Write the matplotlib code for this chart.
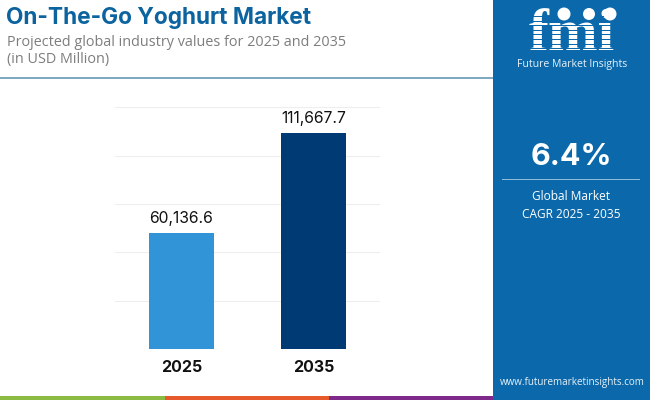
import matplotlib
matplotlib.use("Agg")
import matplotlib.pyplot as plt
from matplotlib.patches import Rectangle, Circle

years = ["2025", "2035"]
values = [60136.6, 111667.7]
value_labels = ["60,136.6", "111,667.7"]
bar_colors = ["#3194d6", "#003a75"]
y_ticks = [0, 25000, 50000, 75000, 100000, 125000]

panel_color = "#0b69ab"
title_color = "#0b639f"
grey_text = "#7d7d7d"

fig = plt.figure(figsize=(6.5, 4), dpi=100, facecolor="white")

# whole figure overlay in pixel coords, y going down
bg = fig.add_axes([0, 0, 1, 1])
bg.set_xlim(0, 650)
bg.set_ylim(400, 0)
bg.axis("off")

bg.add_patch(Rectangle((493, 0), 157, 400, color=panel_color, lw=0))
bg.add_patch(Rectangle((0, 77), 493, 2, color="#7fa9c1", lw=0))
bg.add_patch(Rectangle((0, 396), 165, 4, color="#8cbb44", lw=0))
bg.add_patch(Rectangle((165, 396), 164, 4, color="#e65a2c", lw=0))
bg.add_patch(Rectangle((329, 396), 164, 4, color="#7f2a8a", lw=0))

bg.text(6, 18, "On-The-Go Yoghurt Market", fontsize=16.3, fontweight="bold",
        family="Inter", color=title_color, va="center")
bg.text(7, 43, "Projected global industry values for 2025 and 2035", fontsize=10.4,
        family="Open Sans", color=grey_text, va="center")
bg.text(7, 60, "(in USD Million)", fontsize=10.4, family="Open Sans",
        color=grey_text, va="center")

# right panel text
bg.text(571, 157, "6.4%", fontsize=22, fontweight="bold", family="Inter",
        color="white", ha="center", va="center")
bg.add_patch(Rectangle((502, 179), 138, 1, color="#8fbcd9", lw=0))
bg.text(571, 197, "Global Market", fontsize=8.6, family="Open Sans",
        color="white", ha="center", va="center")
bg.text(571, 214, "CAGR 2025 - 2035", fontsize=8.6, family="Open Sans",
        color="white", ha="center", va="center")
bg.text(572, 383, "www.futuremarketinsights.com", fontsize=7.1, family="Open Sans",
        color="#e6f1f8", ha="center", va="center")

# logo
bg.text(572, 36, "fmi", fontsize=43, fontweight="bold", family="Liberation Serif",
        color="white", ha="center", va="center")
for i in range(10):
    bg.add_patch(Rectangle((515, 16 + i * 4.6), 116, 1.0, color=panel_color, lw=0, zorder=3))
for cx, cy, r in [(564, 14, 6.5), (589, 14, 6), (610, 14, 6.5)]:
    bg.add_patch(Circle((cx, cy), r, color="white", lw=0, zorder=4))
bg.text(572, 64, "Future Market Insights", fontsize=7.6, family="Open Sans",
        color="#e6f1f8", ha="center", va="center")

# chart
ax = fig.add_axes([115 / 650, 1 - 349 / 400, 265 / 650, 241.7 / 400])
ax.patch.set_alpha(0)
ax.bar(range(len(years)), values, width=0.49, color=bar_colors, zorder=3)
ax.set_xlim(-0.5, 1.5)
ax.set_ylim(0, 125000)
ax.set_yticks(y_ticks)
ax.set_xticks(range(len(years)))
ax.set_xticklabels(years, fontsize=11.5, fontweight="bold", family="Inter", color="#111111")
ax.tick_params(axis="both", length=0)
ax.tick_params(axis="x", pad=8)
ax.tick_params(axis="y", labelleft=False)
ax.grid(axis="y", color="#eeeeee", lw=0.8, zorder=0)
ax.set_axisbelow(True)
for s in ax.spines.values():
    s.set_visible(False)

for i, v in enumerate(values):
    ax.annotate(value_labels[i], (i, v), xytext=(0, 5), textcoords="offset points",
                ha="center", va="bottom", fontsize=11.3, family="Inter", color="#111111")

fig.savefig("out.png", dpi=100)
